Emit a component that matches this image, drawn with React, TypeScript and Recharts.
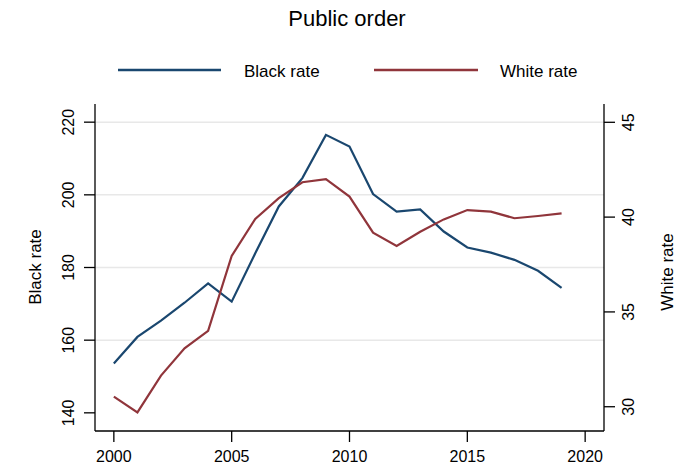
import React from 'react';
import { LineChart, Line, XAxis, YAxis, ReferenceLine } from 'recharts';

const years = [2000, 2001, 2002, 2003, 2004, 2005, 2006, 2007, 2008, 2009, 2010, 2011, 2012, 2013, 2014, 2015, 2016, 2017, 2018, 2019];
const blackRate = [153.6, 160.9, 165.4, 170.3, 175.6, 170.6, 183.9, 196.8, 204.6, 216.5, 213.3, 200.2, 195.4, 196.0, 189.9, 185.5, 184.1, 182.1, 179.1, 174.4];
const whiteRate = [30.53, 29.7, 31.64, 33.08, 34.0, 37.95, 39.9, 41.0, 41.84, 42.0, 41.08, 39.18, 38.48, 39.23, 39.88, 40.37, 40.29, 39.94, 40.06, 40.2];
const xTicks = [2000, 2005, 2010, 2015, 2020];
const leftTicks = [140, 160, 180, 200, 220];
const rightTicks = [30, 35, 40, 45];
const gridValues = [160, 180, 200, 220];

const data = years.map((y, i) => ({ year: y, black: blackRate[i], white: whiteRate[i] }));

const FONT = '"Liberation Sans", Arial, Helvetica, sans-serif';
const BLUE = '#1a476f';
const RED = '#90353b';

const LeftTick = (props: any) => {
  const { y, payload } = props;
  return (
    <text x={74} y={y} transform={`rotate(-90 74 ${y})`} textAnchor="middle" fontSize={16} fill="#000" fontFamily={FONT}>
      {payload.value}
    </text>
  );
};

const RightTick = (props: any) => {
  const { y, payload } = props;
  return (
    <text x={634} y={y} transform={`rotate(-90 634 ${y})`} textAnchor="middle" fontSize={16} fill="#000" fontFamily={FONT}>
      {payload.value}
    </text>
  );
};

const BottomTick = (props: any) => {
  const { x, payload } = props;
  return (
    <text x={x} y={462} textAnchor="middle" fontSize={16} fill="#000" fontFamily={FONT}>
      {payload.value}
    </text>
  );
};

export default function App() {
  return (
    <div style={{ position: 'absolute', left: 0, top: 0, width: 692, height: 467, background: '#fff', fontFamily: FONT }}>
      <LineChart width={692} height={467} data={data} margin={{ top: 104, right: 0, bottom: 0, left: 0 }}>
        {gridValues.map((v) => (
          <ReferenceLine key={v} yAxisId="left" y={v} stroke="#e8e8e8" strokeWidth={1.5} />
        ))}
        <XAxis
          dataKey="year"
          type="number"
          domain={[1999.2, 2020.8]}
          ticks={xTicks}
          allowDataOverflow
          height={36}
          tickSize={11}
          tick={<BottomTick />}
          axisLine={{ stroke: '#000', strokeWidth: 1.3 }}
          tickLine={{ stroke: '#000', strokeWidth: 1.3 }}
        />
        <YAxis
          yAxisId="left"
          orientation="left"
          type="number"
          domain={[135, 225]}
          ticks={leftTicks}
          allowDataOverflow
          width={95}
          tickSize={11}
          tick={<LeftTick />}
          axisLine={{ stroke: '#000', strokeWidth: 1.3 }}
          tickLine={{ stroke: '#000', strokeWidth: 1.3 }}
          label={{
            content: () => (
              <text x={41} y={267} transform="rotate(-90 41 267)" textAnchor="middle" fontSize={17} fill="#000" fontFamily={FONT}>
                Black rate
              </text>
            ),
          }}
        />
        <YAxis
          yAxisId="right"
          orientation="right"
          type="number"
          domain={[28.72, 45.965]}
          ticks={rightTicks}
          allowDataOverflow
          width={88}
          tickSize={11}
          tick={<RightTick />}
          axisLine={{ stroke: '#000', strokeWidth: 1.3 }}
          tickLine={{ stroke: '#000', strokeWidth: 1.3 }}
          label={{
            content: () => (
              <text x={673} y={272} transform="rotate(-90 673 272)" textAnchor="middle" fontSize={17} fill="#000" fontFamily={FONT}>
                White rate
              </text>
            ),
          }}
        />
        <Line yAxisId="left" type="linear" dataKey="black" stroke={BLUE} strokeWidth={2.2} dot={false} isAnimationActive={false} />
        <Line yAxisId="right" type="linear" dataKey="white" stroke={RED} strokeWidth={2.2} dot={false} isAnimationActive={false} />
      </LineChart>
      <svg width={692} height={100} style={{ position: 'absolute', left: 0, top: 0, pointerEvents: 'none' }}>
        <text x={347} y={26} textAnchor="middle" fontSize={22} fill="#000" fontFamily={FONT}>Public order</text>
        <line x1={118} y1={70} x2={221} y2={70} stroke={BLUE} strokeWidth={2.5} />
        <text x={244} y={77} fontSize={17} fill="#000" fontFamily={FONT}>Black rate</text>
        <line x1={374} y1={70} x2={478} y2={70} stroke={RED} strokeWidth={2.5} />
        <text x={500} y={77} fontSize={17} fill="#000" fontFamily={FONT}>White rate</text>
      </svg>
    </div>
  );
}
